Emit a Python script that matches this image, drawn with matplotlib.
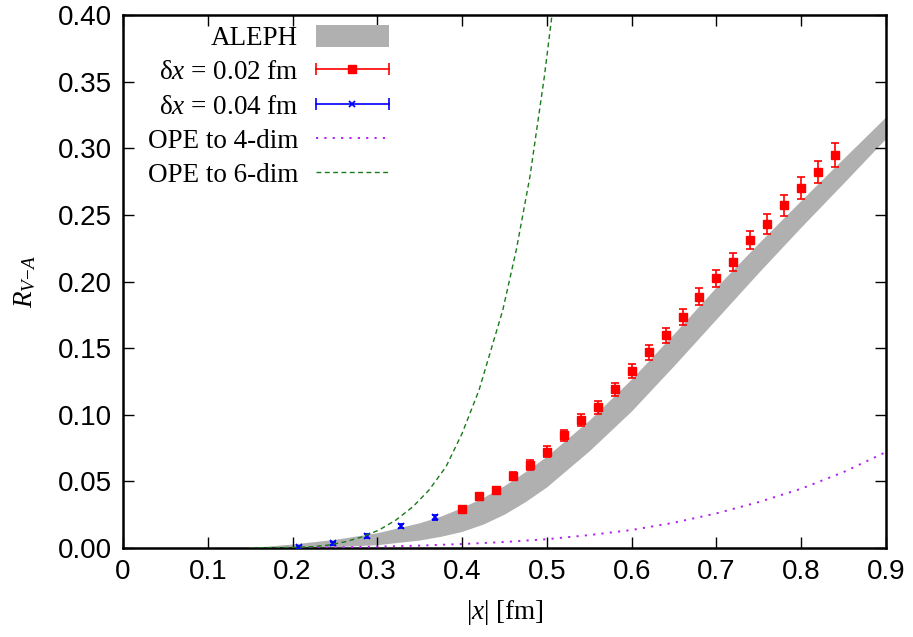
import matplotlib
matplotlib.use("Agg")
import matplotlib.pyplot as plt
from matplotlib.lines import Line2D
from matplotlib.patches import Patch
from matplotlib.legend_handler import HandlerLine2D, HandlerTuple

# --- Data ---
# ALEPH band (lower / upper edge)
aleph_x = [0.15, 0.20, 0.25, 0.30, 0.35, 0.375, 0.40, 0.425, 0.45, 0.475, 0.50,
           0.55, 0.60, 0.65, 0.70, 0.75, 0.80, 0.85, 0.90]
aleph_lo = [0.0, 0.0003, 0.001, 0.0025, 0.006, 0.0088, 0.0125, 0.018, 0.0255, 0.035,
            0.046, 0.073, 0.103, 0.137, 0.172, 0.207, 0.241, 0.274, 0.3075]
aleph_hi = [0.0003, 0.003, 0.0065, 0.0115, 0.019, 0.024, 0.0305, 0.038, 0.047, 0.0575,
            0.069, 0.096, 0.127, 0.161, 0.196, 0.229, 0.261, 0.2925, 0.3237]

# lattice, dx = 0.02 fm
x02 = [0.40, 0.42, 0.44, 0.46, 0.48, 0.50, 0.52, 0.54, 0.56, 0.58, 0.60, 0.62,
       0.64, 0.66, 0.68, 0.70, 0.72, 0.74, 0.76, 0.78, 0.80, 0.82, 0.84]
r02 = [0.0294, 0.0393, 0.0435, 0.054, 0.0623, 0.0723, 0.0845, 0.0958, 0.1056, 0.119,
       0.1327, 0.1468, 0.1596, 0.1731, 0.1886, 0.2024, 0.2144, 0.2311, 0.2429,
       0.2572, 0.2702, 0.2822, 0.2949]
e02 = [0.002, 0.0022, 0.0025, 0.003, 0.0035, 0.0039, 0.0044, 0.0044, 0.0049, 0.0052,
       0.0054, 0.0055, 0.0057, 0.006, 0.0063, 0.0066, 0.0068, 0.007, 0.0074,
       0.0077, 0.0081, 0.0085, 0.009]

# lattice, dx = 0.04 fm
x04 = [0.2075, 0.2475, 0.2875, 0.3275, 0.3675]
r04 = [0.001, 0.0035, 0.009, 0.0168, 0.023]
e04 = [0.0008, 0.001, 0.0012, 0.0015, 0.0018]

# OPE curves
ope4_x = [0.20, 0.25, 0.30, 0.35, 0.40, 0.45, 0.50, 0.55, 0.60, 0.65, 0.70,
          0.75, 0.80, 0.85, 0.90]
ope4_y = [0.0002, 0.0005, 0.001, 0.0018, 0.003, 0.0045, 0.0066, 0.0097, 0.0135,
          0.019, 0.026, 0.0345, 0.0445, 0.057, 0.072]
ope6_x = [0.15, 0.20, 0.224, 0.2435, 0.263, 0.283, 0.302, 0.322, 0.342, 0.361,
          0.381, 0.400, 0.420, 0.448, 0.464, 0.480, 0.497, 0.506, 0.512]
ope6_y = [0.0, 0.0004, 0.001, 0.0023, 0.0048, 0.0085, 0.0135, 0.021, 0.031, 0.0435,
          0.061, 0.086, 0.1186, 0.1786, 0.224, 0.2787, 0.3537, 0.40, 0.43]

xticks = [0, 0.1, 0.2, 0.3, 0.4, 0.5, 0.6, 0.7, 0.8, 0.9]
xticklabels = ["0", "0.1", "0.2", "0.3", "0.4", "0.5", "0.6", "0.7", "0.8", "0.9"]
yticks = [0.0, 0.05, 0.10, 0.15, 0.20, 0.25, 0.30, 0.35, 0.40]

BAND = "#b0b0b0"
RED = "#ff0000"
BLUE = "#0000ff"
PURPLE = "#b020f0"
GREEN = "#1a7a1a"

plt.rcParams["font.family"] = "Liberation Serif"
plt.rcParams["mathtext.fontset"] = "custom"
plt.rcParams["mathtext.rm"] = "Liberation Serif"
plt.rcParams["mathtext.it"] = "Liberation Serif:italic"

fig = plt.figure(figsize=(9.13, 6.37), dpi=100)
ax = fig.add_axes([123 / 913, 1 - 548 / 637, (886 - 123) / 913, (548 - 15) / 637])

ax.fill_between(aleph_x, aleph_lo, aleph_hi, color=BAND, lw=0, zorder=1)
ax.errorbar(x02, r02, yerr=e02, fmt="s", color=RED, ms=6, capsize=3,
            elinewidth=1.2, capthick=1.2, zorder=3)
ax.errorbar(x04, r04, yerr=e04, fmt="x", color=BLUE, ms=4.5, mew=1.3, capsize=2.5,
            elinewidth=1.2, capthick=1.2, zorder=3)
ax.plot(ope4_x, ope4_y, color=PURPLE, lw=1.4, dashes=(1.1, 3.2), zorder=4)
ax.plot(ope6_x, ope6_y, color=GREEN, lw=1.0, dashes=(3.5, 2.5), zorder=4)

ax.set_xlim(0, 0.9)
ax.set_ylim(0, 0.40)
ax.set_xticks(xticks, xticklabels)
ax.set_yticks(yticks, ["%.2f" % v for v in yticks])
ax.tick_params(direction="in", length=8, width=1, top=True, right=True,
               labelsize=20, pad=8, labelfontfamily="Liberation Sans")
for s in ax.spines.values():
    s.set_linewidth(1.8)

ax.set_xlabel(r"$|x|$ [fm]", fontsize=19.5, labelpad=9)
ax.set_ylabel(r"$R_{V\!-\!A}$", fontsize=19.5, labelpad=14)

# legend handles, gnuplot style: text right aligned, sample on the right
h_band = Patch(facecolor=BAND, edgecolor="none")
red_line = Line2D([], [], color=RED, lw=1.2, marker="s", ms=6)
red_caps = Line2D([], [], color=RED, ls="none", marker="|", ms=8, mew=1.2)
blue_line = Line2D([], [], color=BLUE, lw=1.2, marker="x", ms=4.5, mew=1.3)
blue_caps = Line2D([], [], color=BLUE, ls="none", marker="|", ms=8, mew=1.2)
h_ope4 = Line2D([], [], color=PURPLE, lw=1.4, dashes=(1.1, 3.2))
h_ope6 = Line2D([], [], color=GREEN, lw=1.0, dashes=(3.5, 2.5))

caps = HandlerLine2D(numpoints=2, marker_pad=0)
ax.legend([h_band, (red_line, red_caps), (blue_line, blue_caps), h_ope4, h_ope6],
          ["ALEPH", r"δ$x$ = 0.02 fm", r"δ$x$ = 0.04 fm", "OPE to 4-dim", "OPE to 6-dim"],
          handler_map={red_caps: caps, blue_caps: caps,
                       tuple: HandlerTuple(ndivide=1, pad=0)},
          loc="upper right", bbox_to_anchor=(389 / 913, 1 - 25 / 637),
          bbox_transform=fig.transFigure, frameon=False, markerfirst=False,
          fontsize=19.5, handlelength=2.7, handleheight=0.85, handletextpad=0.65,
          labelspacing=0.3, borderpad=0, borderaxespad=0)

fig.savefig("out.png", dpi=100)
